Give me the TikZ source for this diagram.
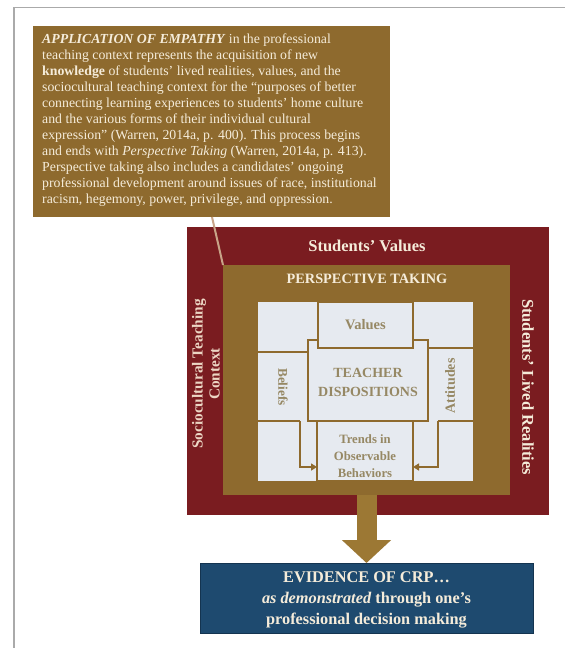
\documentclass[tikz,border=0pt]{standalone}
\usepackage{fontspec}
\setmainfont{Liberation Serif}
\usetikzlibrary{arrows.meta}
\definecolor{maroon}{RGB}{122,28,32}
\definecolor{goldc}{RGB}{142,106,46}
\definecolor{cellc}{RGB}{230,234,240}
\definecolor{khaki}{RGB}{150,136,100}
\definecolor{cream}{RGB}{245,236,218}
\definecolor{pinkc}{RGB}{236,214,196}
\definecolor{bluec}{RGB}{30,74,111}
\definecolor{blueline}{RGB}{20,52,80}
\definecolor{tanline}{RGB}{200,164,136}
\definecolor{arrowgold}{RGB}{156,120,52}
\definecolor{framec}{RGB}{170,170,170}
\tikzset{
  boxnode/.style={anchor=north west, inner sep=0pt, outer sep=0pt},
  gline/.style={draw=goldc, line width=2.5pt},
  tline/.style={draw=goldc, line width=1.3pt},
  garrow/.style={draw=goldc, line width=2pt, -{Triangle[length=6pt,width=7pt]}},
  celltext/.style={text=khaki, font=\bfseries, inner sep=0pt, align=center},
}
\begin{document}
\begin{tikzpicture}[x=1pt,y=-1pt]
\useasboundingbox (0,0) rectangle (565,648);
\fill[white] (0,0) rectangle (565,648);
% outer faint frame
\draw[framec, line width=1.2pt] (14,648) -- (14,7.5) -- (565,7.5);

% callout box
\node[boxnode, fill=goldc, minimum width=357pt, minimum height=191pt] (call) at (33,26) {};
\node[anchor=north west, inner sep=0pt, align=left, text=cream,
      font=\fontsize{13.8}{16}\selectfont] (calltext) at ([xshift=9pt,yshift=-8pt]call.north west)
{\textbf{\textit{APPLICATION OF EMPATHY}} in the professional\\
teaching context represents the acquisition of new\\
\textbf{knowledge} of students’ lived realities, values, and the\\
sociocultural teaching context for the “purposes of better\\
connecting learning experiences to students’ home culture\\
and the various forms of their individual cultural\\
expression” (Warren, 2014a, p. 400). This process begins\\
and ends with \textit{Perspective Taking} (Warren, 2014a, p. 413).\\
Perspective taking also includes a candidates’ ongoing\\
professional development around issues of race, institutional\\
racism, hegemony, power, privilege, and oppression.};

% maroon, gold, light boxes
\node[boxnode, fill=maroon, minimum width=362pt, minimum height=288pt] (red) at (187,227) {};
\node[boxnode, fill=goldc, minimum width=287pt, minimum height=230pt] (gold) at (223,265) {};
\node[boxnode, fill=cellc, minimum width=215pt, minimum height=179pt] (inner) at (258,302) {};

% pointer from callout to gold box
\coordinate (ptr) at (212,217);
\draw[tanline, line width=2pt] (ptr) -- (gold.north west);

% labels on maroon and gold
\node[text=cream, font=\fontsize{16.5}{17}\selectfont\bfseries, inner sep=0pt] (sv) at (367,246) {Students’ Values};
\node[text=pinkc, font=\fontsize{15.3}{17}\selectfont\bfseries, inner sep=0pt, align=center, rotate=90] (sc) at (206,374)
 {Sociocultural Teaching\\Context};
\node[text=cream, font=\fontsize{16.5}{17}\selectfont\bfseries, inner sep=0pt, rotate=-90] (slr) at (528,387) {Students’ Lived Realities};
\node[text=cream, font=\fontsize{14.3}{16}\selectfont\bfseries, inner sep=0pt] (pt) at (367,279) {PERSPECTIVE TAKING};

% inner grid
\node[boxnode, gline, minimum width=95pt, minimum height=46pt] (vals) at (318,302) {};
\node[celltext, font=\fontsize{14.5}{16}\selectfont\bfseries] (valt) at (vals.center) {Values};
\node[boxnode, gline, minimum width=96pt, minimum height=60pt] (trends) at (317,421) {};
\node[celltext, font=\fontsize{12.7}{17}\selectfont\bfseries] (trt) at ([yshift=-5pt]trends.center) {Trends in\\Observable\\Behaviors};
\draw[gline] (vals.south west |- 0,340) -- (308,340) -- (308,421) -- (428,421) -- (428,340) -- (vals.south east |- 0,340);
\draw[tline] (258,352) -- (308,352);
\draw[tline] (428,348) -- (473,348);
\draw[tline] (258,421) -- (300,421);
\draw[tline] (438,421) -- (473,421);

\node[celltext, font=\fontsize{14}{19}\selectfont\bfseries] (teach) at (368,382) {TEACHER\\DISPOSITIONS};
\node[celltext, font=\fontsize{13.3}{14}\selectfont\bfseries, rotate=-90] (beliefs) at (283,387) {Beliefs};
\node[celltext, font=\fontsize{14}{14}\selectfont\bfseries, rotate=90] (attitudes) at (450,386) {Attitudes};

\coordinate (bl) at (300,421);
\coordinate (br) at (438,421);
\draw[garrow] (bl) |- ([yshift=-16pt]trends.west);
\draw[garrow] (br) |- ([yshift=-16pt]trends.east);

% evidence box
\node[boxnode, fill=bluec, draw=blueline, line width=1pt, minimum width=333pt, minimum height=70pt] (ev) at (200,563) {};
\node[text=cream, font=\fontsize{16.3}{21}\selectfont\bfseries, inner sep=0pt, align=center] (evt) at ([yshift=-2pt]ev.center)
 {EVIDENCE OF CRP…\\\textit{as demonstrated} through one’s\\professional decision making};

% big arrow
\draw[arrowgold, line width=20pt, -{Triangle[length=23pt,width=48pt]}] (gold.south) -- (ev.north);
\end{tikzpicture}
\end{document}
